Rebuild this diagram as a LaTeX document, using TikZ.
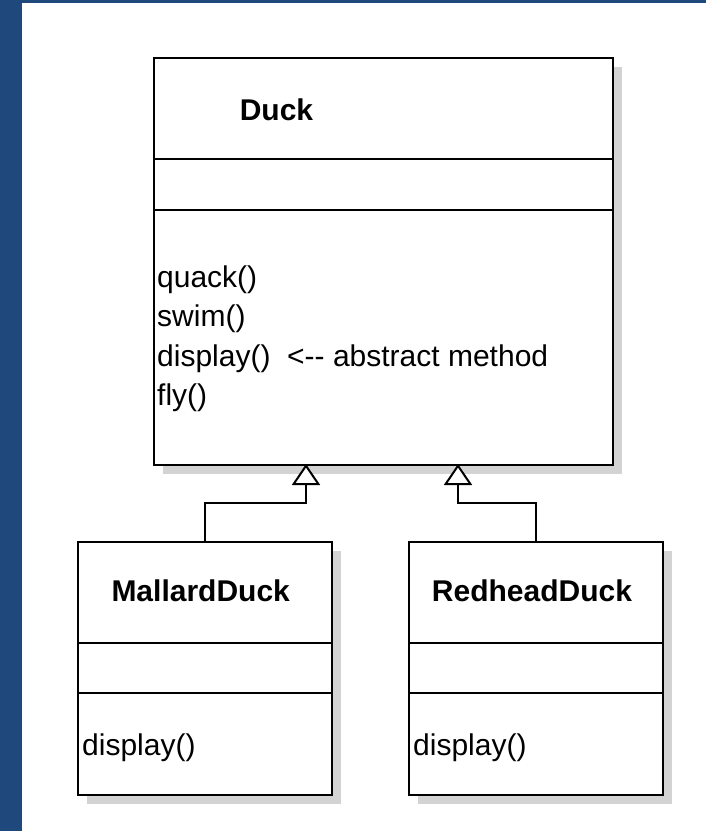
\documentclass[tikz,border=0pt]{standalone}
\usepackage{fontspec}
\setmainfont{Liberation Sans}[Ligatures=TeXOff]
\usetikzlibrary{arrows.meta,shadows}
\definecolor{frameblue}{HTML}{1F497D}
\definecolor{shadowgray}{HTML}{D3D3D3}
\begin{document}
\begin{tikzpicture}[x=1pt,y=-1pt,
  umlbox/.style={draw=black, line width=2pt, fill=white, anchor=north west, inner sep=0pt,
     drop shadow={shadow xshift=9pt, shadow yshift=-9pt, fill=shadowgray, opacity=1}},
  divider/.style={draw=black, line width=2pt},
  inherit/.style={draw=black, line width=2pt, -{Triangle[length=21pt,width=28pt,fill=white]}},
  umltitle/.style={font=\fontsize{30}{36}\selectfont\bfseries, inner sep=0pt, anchor=base},
  member/.style={font=\fontsize{30}{36}\selectfont, inner sep=0pt, anchor=base west}]
\useasboundingbox (0,0) rectangle (706,831);
\fill[white] (0,0) rectangle (706,831);
\fill[frameblue] (0,0) rectangle (22,831);
\fill[frameblue] (0,0) rectangle (706,3);

% boxes
\node[umlbox, minimum width=459pt, minimum height=407pt] (duck) at (153,57) {};
\node[umlbox, minimum width=254pt, minimum height=253pt] (mallard) at (77,541) {};
\node[umlbox, minimum width=254pt, minimum height=253pt] (redhead) at (408,541) {};

% dividers
\draw[divider] (duck.west |- 0,159) -- (duck.east |- 0,159);
\draw[divider] (duck.west |- 0,210) -- (duck.east |- 0,210);
\draw[divider] (mallard.west |- 0,643) -- (mallard.east |- 0,643);
\draw[divider] (mallard.west |- 0,693) -- (mallard.east |- 0,693);
\draw[divider] (redhead.west |- 0,643) -- (redhead.east |- 0,643);
\draw[divider] (redhead.west |- 0,693) -- (redhead.east |- 0,693);

% texts
\node[umltitle] (duckname) at (276.5,120) {Duck};
\node[member] (m1) at (157,287) {quack()};
\node[member] (m2) at (157,326.5) {swim()};
\node[member] (m3) at (157,366) {display()\ \ <-- abstract method};
\node[member] (m4) at (157,405.5) {fly()};
\node[umltitle] (mallardname) at (200.7,601.7) {MallardDuck};
\node[member] (md) at (82,755) {display()};
\node[umltitle] (redheadname) at (532,601.7) {RedheadDuck};
\node[member] (rd) at (413,755) {display()};

% inheritance
\coordinate (apexL) at (306,464);
\coordinate (apexR) at (458,464);
\draw[inherit] (mallard.north) -- (mallard.north |- 0,503) -| (apexL);
\draw[inherit] (redhead.north) -- (redhead.north |- 0,503) -| (apexR);
\end{tikzpicture}
\end{document}
